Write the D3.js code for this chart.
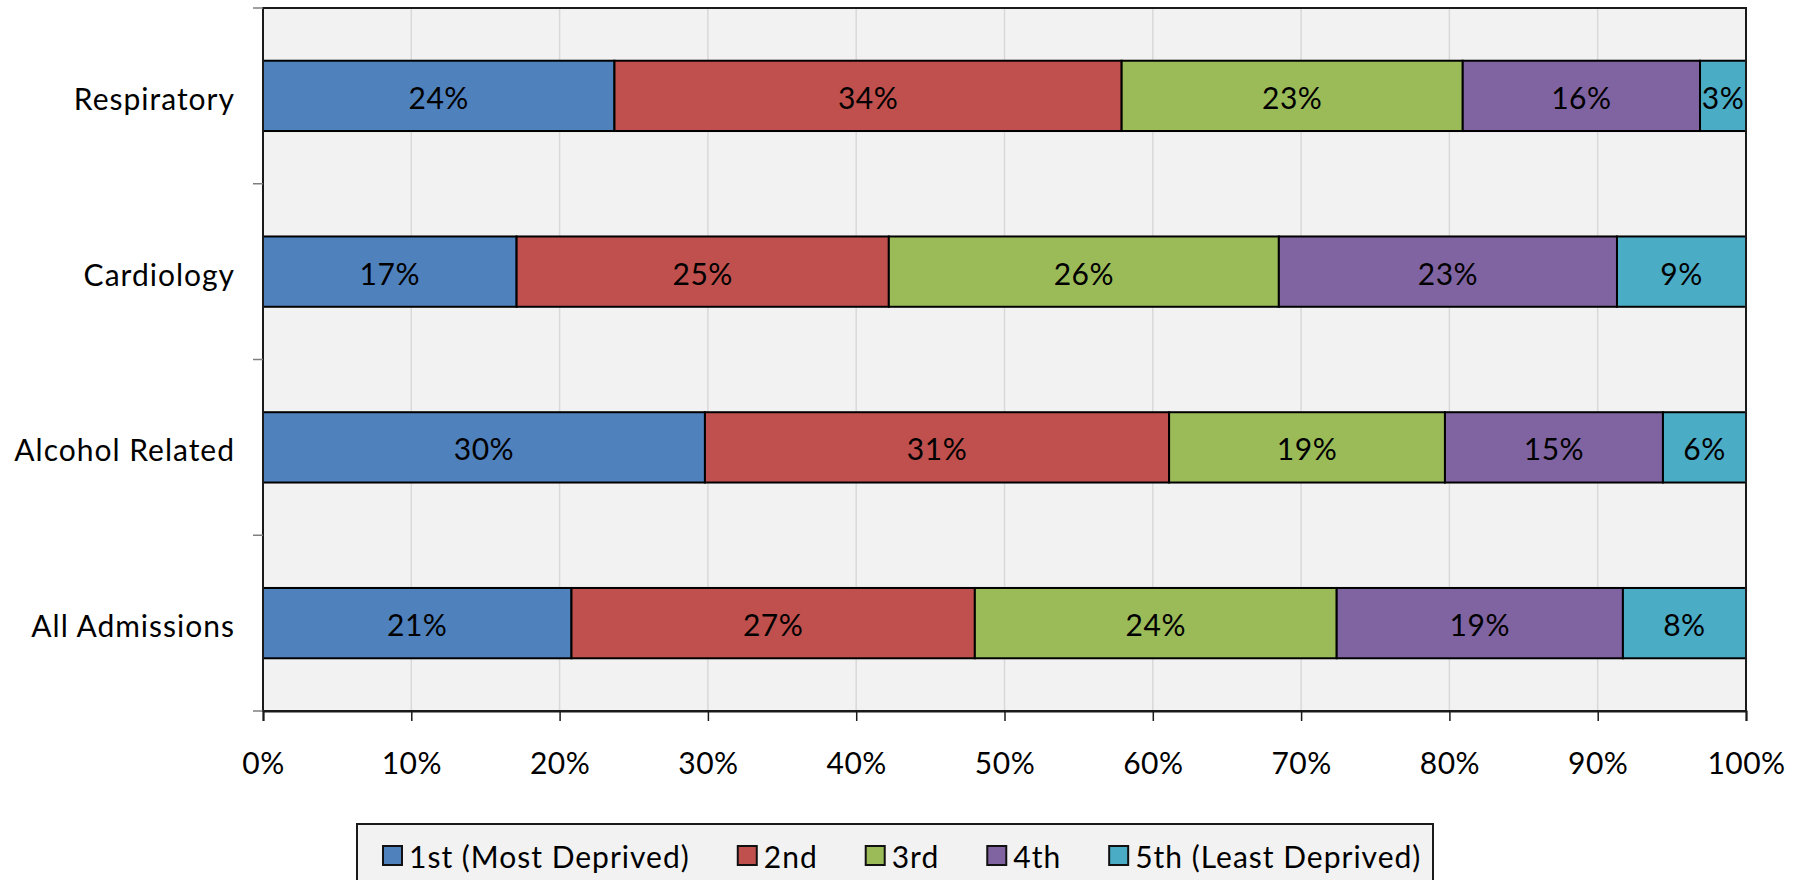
<!DOCTYPE html>
<html>
<head>
<meta charset="utf-8">
<script src="https://cdn.jsdelivr.net/npm/d3@7"></script>
<style>
  html, body { margin: 0; padding: 0; background: #ffffff; }
  svg { display: block; }
  text { font-family: Lato, "Open Sans", "Liberation Sans", sans-serif; fill: #000; }
</style>
</head>
<body>
<svg id="chart" width="1800" height="880"></svg>
<script>
// Admissions by deprivation quintile, share of each category (%)
const categories = ["Respiratory", "Cardiology", "Alcohol Related", "All Admissions"];
const seriesNames = ["1st (Most Deprived)", "2nd", "3rd", "4th", "5th (Least Deprived)"];
const seriesColors = ["#4F81BD", "#C0504D", "#9BBB59", "#8064A2", "#4BACC6"];

const quintile1 = [23.7, 17.1, 29.8, 20.8];
const quintile2 = [34.2, 25.1, 31.3, 27.2];
const quintile3 = [23.0, 26.3, 18.6, 24.4];
const quintile4 = [16.0, 22.8, 14.7, 19.3];
const quintile5 = [3.1, 8.7, 5.6, 8.3];

const xTickValues = [0, 10, 20, 30, 40, 50, 60, 70, 80, 90, 100];

// Build the row table for d3.stack
const seriesValues = [quintile1, quintile2, quintile3, quintile4, quintile5];
const rows = categories.map((c, i) => {
  const r = { category: c };
  seriesNames.forEach((s, j) => { r[s] = seriesValues[j][i]; });
  return r;
});

const svg = d3.select("#chart");
const plot = { left: 263, right: 1746, top: 8, bottom: 711 };
const FONT = 30;

const x = d3.scaleLinear().domain([0, 100]).range([plot.left, plot.right]);
const y = d3.scaleBand().domain(categories).range([plot.top, plot.bottom]).paddingInner(0.6).paddingOuter(0.3);
const band = d3.scaleBand().domain(categories).range([plot.top, plot.bottom]);

// Plot background
svg.append("rect")
  .attr("x", plot.left).attr("y", plot.top)
  .attr("width", plot.right - plot.left).attr("height", plot.bottom - plot.top)
  .attr("fill", "#F2F2F2");

// Vertical gridlines
svg.append("g")
  .selectAll("line")
  .data(xTickValues.slice(1, -1))
  .join("line")
  .attr("x1", d => x(d)).attr("x2", d => x(d))
  .attr("y1", plot.top).attr("y2", plot.bottom)
  .attr("stroke", "#D9D9D9").attr("stroke-width", 1.5);

// Stacked bars
const stacked = d3.stack().keys(seriesNames)(rows);
const layers = svg.append("g")
  .selectAll("g")
  .data(stacked)
  .join("g")
  .attr("fill", (d, i) => seriesColors[i]);

layers.selectAll("rect")
  .data(d => d)
  .join("rect")
  .attr("x", d => x(d[0]))
  .attr("y", d => y(d.data.category))
  .attr("width", d => x(d[1]) - x(d[0]))
  .attr("height", y.bandwidth())
  .attr("stroke", "#000")
  .attr("stroke-width", 2);

// Data labels
layers.selectAll("text")
  .data((d) => d.map(p => ({ p, key: d.key })))
  .join("text")
  .attr("x", d => (x(d.p[0]) + x(d.p[1])) / 2)
  .attr("y", d => y(d.p.data.category) + y.bandwidth() / 2 + 13)
  .attr("text-anchor", "middle")
  .attr("font-size", FONT)
  .attr("letter-spacing", 0.5)
  .attr("fill", "#000")
  .text(d => Math.round(d.p.data[d.key]) + "%");

// Plot frame
svg.append("rect")
  .attr("x", plot.left).attr("y", plot.top)
  .attr("width", plot.right - plot.left).attr("height", plot.bottom - plot.top)
  .attr("fill", "none").attr("stroke", "#1a1a1a").attr("stroke-width", 2);

// Y axis: tick marks at category boundaries, labels at band centres
const yBounds = categories.map(c => band(c)).concat([plot.bottom]);
svg.append("g")
  .selectAll("line")
  .data(yBounds)
  .join("line")
  .attr("x1", plot.left - 10).attr("x2", plot.left)
  .attr("y1", d => d).attr("y2", d => d)
  .attr("stroke", "#7f7f7f").attr("stroke-width", 1.5);

svg.append("g")
  .selectAll("text")
  .data(categories)
  .join("text")
  .attr("x", plot.left - 28)
  .attr("y", d => y(d) + y.bandwidth() / 2 + 14)
  .attr("text-anchor", "end")
  .attr("font-size", FONT)
  .attr("letter-spacing", 1)
  .text(d => d);

// X axis
const xAxis = d3.axisBottom(x)
  .tickValues(xTickValues)
  .tickFormat(d => d + "%")
  .tickSize(10)
  .tickPadding(30);
const gx = svg.append("g")
  .attr("transform", `translate(0,${plot.bottom})`)
  .call(xAxis);
gx.select(".domain").attr("stroke", "#1a1a1a").attr("stroke-width", 2);
gx.selectAll(".tick line").attr("stroke", "#1a1a1a").attr("stroke-width", 1.5);
gx.selectAll(".tick text")
  .attr("font-size", FONT)
  .attr("letter-spacing", 0.5)
  .attr("font-family", null)
  .attr("fill", "#000")
  .attr("dy", null)
  .attr("y", 63);

// Legend
const legend = { left: 357, top: 824, right: 1433 };
svg.append("rect")
  .attr("x", legend.left).attr("y", legend.top)
  .attr("width", legend.right - legend.left).attr("height", 80)
  .attr("fill", "#F2F2F2").attr("stroke", "#1a1a1a").attr("stroke-width", 2);

const items = svg.append("g")
  .selectAll("g")
  .data(seriesNames)
  .join("g");

items.append("rect")
  .attr("width", 19).attr("height", 19)
  .attr("y", 846)
  .attr("fill", (d, i) => seriesColors[i])
  .attr("stroke", "#111").attr("stroke-width", 2);

items.append("text")
  .attr("x", 26)
  .attr("y", 868)
  .attr("font-size", FONT)
  .attr("letter-spacing", 1)
  .text(d => d);

// Lay legend entries out left to right using measured label widths
let cursor = legend.left + 26;
items.each(function () {
  const g = d3.select(this);
  g.attr("transform", `translate(${cursor},0)`);
  const w = g.select("text").node().getComputedTextLength();
  cursor += 26 + w + 48;
});
</script>
</body>
</html>
